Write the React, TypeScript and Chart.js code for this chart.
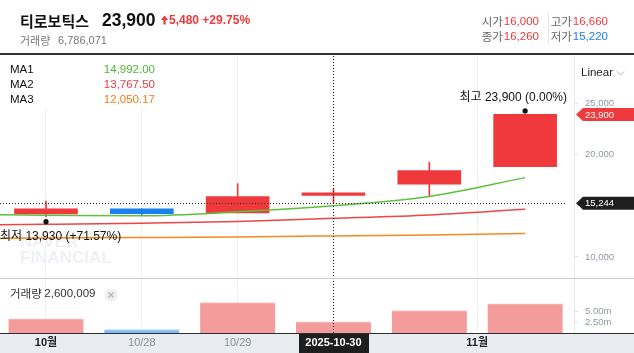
import React, { useEffect, useRef } from 'react';
import { Chart, registerables } from 'chart.js';

Chart.register(...registerables);

// ---- data ----
const stockName = '티로보틱스';
const dates = ['10/27', '10/28', '10/29', '10/30', '10/31', '11/03'];
const opens = [14200, 14700, 14300, 16000, 17100, 18800];
const highs = [15450, 14700, 17150, 16660, 19250, 23900];
const lows = [13930, 14100, 14300, 15220, 15950, 18800];
const closes = [14700, 14220, 15880, 16260, 18420, 23900];
const volumes = [3320000, 820000, 7130000, 2600009, 5260000, 6786071];
const totalVolume = 6786071;
const prevClose = 18420;

const maIndex = [-1, 0, 1, 2, 3, 4, 5];
const ma1 = [14150, 14080, 14020, 14400, 14992.0, 15900, 17740];
const ma2 = [13080, 13180, 13300, 13470, 13767.5, 14100, 14650];
const ma3 = [11800, 11850, 11900, 11960, 12050.17, 12150, 12300];
const maNames = ['MA1', 'MA2', 'MA3'];

const priceTicks = [10000, 20000, 25000];
const volumeTicks = [2500000, 5000000];
const xTickPos = [0, 1, 2, 3, 4.5];
const xTickLabels = ['10월', '10/28', '10/29', '2025-10-30', '11월'];

const crossIndex = 3;
const crossPrice = 15244;

// ---- style ----
const FONT = "'Liberation Sans', 'Noto Sans CJK KR', sans-serif";
const KFONT = "'Noto Sans CJK KR', 'Liberation Sans', sans-serif";
const UP = '#f0393c';
const DOWN = '#1a7ff0';
const UP_VOL = '#f49b9c';
const UP_VOL_TOP = '#f7c3c3';
const DOWN_VOL = '#80bcf6';
const DOWN_VOL_TOP = '#b5d7fa';
const MA_COLORS = ['#5cc13e', '#ee4548', '#f58a22'];
const MA_TEXT = ['#4db832', '#ee3a40', '#f47d18'];

const fmt = (v: number) => v.toLocaleString('en-US');

export default function App() {
  const ref = useRef<HTMLCanvasElement>(null);

  useEffect(() => {
    const canvas = ref.current as HTMLCanvasElement;
    const n = dates.length;
    const isUp = closes.map((c, i) => c >= opens[i]);
    const candleColors = isUp.map((u) => (u ? UP : DOWN));
    const volColors = isUp.map((u) => (u ? UP_VOL : DOWN_VOL));
    const volTop = isUp.map((u) => (u ? UP_VOL_TOP : DOWN_VOL_TOP));
    const lastClose = closes[n - 1];
    const maxHigh = Math.max(...highs);
    const maxIdx = highs.indexOf(maxHigh);
    const minLow = Math.min(...lows);
    const minIdx = lows.indexOf(minLow);
    const change = lastClose - prevClose;
    const changePct = (change / prevClose) * 100;

    const overlay = {
      id: 'overlay',
      beforeDraw(chart: any) {
        const ctx = chart.ctx;
        const W = chart.width;
        const H = chart.height;
        const area = chart.chartArea;
        ctx.save();
        ctx.fillStyle = '#ffffff';
        ctx.fillRect(0, 0, W, H);
        ctx.fillStyle = '#e9ecf1';
        ctx.fillRect(0, area.bottom, W, H - area.bottom);
        const cx = chart.scales.x.getPixelForValue(crossIndex);
        ctx.fillStyle = '#1e1e1e';
        ctx.fillRect(Math.round(cx) - 34, area.bottom, 70, H - area.bottom);
        ctx.restore();
      },
      beforeDatasetsDraw(chart: any) {
        const ctx = chart.ctx;
        const area = chart.chartArea;
        ctx.save();
        ctx.fillStyle = '#ffffff';
        ctx.fillRect(0, area.top, 160, 52);
        ctx.fillStyle = '#eef0f4';
        ctx.font = `bold 17px ${FONT}`;
        ctx.textBaseline = 'middle';
        ctx.textAlign = 'left';
        ctx.fillText('NAVER', 20, 242);
        ctx.fillText('FINANCIAL', 20, 258);
        ctx.restore();
      },
      afterDatasetsDraw(chart: any) {
        const ctx = chart.ctx;
        const area = chart.chartArea;
        const xs = chart.scales.x;
        const ys = chart.scales.y;
        ctx.save();
        ctx.strokeStyle = '#222';
        ctx.lineWidth = 1;
        ctx.setLineDash([1, 2]);
        const cx = Math.round(xs.getPixelForValue(crossIndex)) + 0.5;
        ctx.beginPath();
        ctx.moveTo(cx, area.top);
        ctx.lineTo(cx, area.bottom);
        ctx.stroke();
        const cy = Math.round(ys.getPixelForValue(crossPrice)) + 0.5;
        ctx.beginPath();
        ctx.moveTo(area.left, cy);
        ctx.lineTo(area.right - 7, cy);
        ctx.stroke();
        ctx.restore();
      },
      afterDraw(chart: any) {
        const ctx = chart.ctx;
        const W = chart.width;
        const area = chart.chartArea;
        const xs = chart.scales.x;
        const ys = chart.scales.y;
        ctx.save();
        ctx.textBaseline = 'middle';
        ctx.textAlign = 'left';

        // header
        ctx.fillStyle = '#111';
        ctx.font = `bold 15px ${KFONT}`;
        ctx.fillText(stockName, 20, 21);
        ctx.font = `bold 17.5px ${FONT}`;
        ctx.fillText(fmt(lastClose), 102, 21);
        ctx.fillStyle = UP;
        ctx.beginPath();
        ctx.moveTo(164.5, 15.5);
        ctx.lineTo(160.8, 20);
        ctx.lineTo(168.2, 20);
        ctx.closePath();
        ctx.fill();
        ctx.fillRect(163.4, 19.5, 2.3, 5);
        ctx.font = `bold 12px ${FONT}`;
        ctx.fillText(`${fmt(change)} +${changePct.toFixed(2)}%`, 169, 21);
        ctx.fillStyle = '#777';
        ctx.font = `11px ${KFONT}`;
        ctx.fillText('거래량', 20, 41);
        ctx.font = `11px ${FONT}`;
        ctx.fillText(fmt(totalVolume), 58, 41);

        const drawPair = (label: string, value: number, color: string, right: number, y: number) => {
          ctx.font = `11.5px ${FONT}`;
          ctx.textAlign = 'right';
          ctx.fillStyle = color;
          ctx.fillText(fmt(value), right, y);
          const w = ctx.measureText(fmt(value)).width;
          ctx.font = `11.5px ${KFONT}`;
          ctx.fillStyle = '#666';
          ctx.fillText(label, right - w - 1, y);
          ctx.textAlign = 'left';
        };
        drawPair('시가', opens[crossIndex], UP, 539, 22);
        drawPair('고가', highs[crossIndex], UP, 608, 22);
        drawPair('종가', closes[crossIndex], UP, 539, 37);
        drawPair('저가', lows[crossIndex], DOWN, 608, 37);
        ctx.fillStyle = '#e4e4e4';
        ctx.fillRect(548, 13, 1, 31);

        ctx.fillStyle = '#333';
        ctx.fillRect(0, 53, W, 2);

        // MA legend
        const mas = [ma1, ma2, ma3];
        const mi = maIndex.indexOf(crossIndex);
        mas.forEach((arr, k) => {
          const y = 70 + k * 15;
          ctx.font = `11.5px ${FONT}`;
          ctx.textAlign = 'left';
          ctx.fillStyle = '#111';
          ctx.fillText(maNames[k], 10, y);
          ctx.textAlign = 'right';
          ctx.fillStyle = MA_TEXT[k];
          ctx.fillText(arr[mi].toLocaleString('en-US', { minimumFractionDigits: 2, maximumFractionDigits: 2 }), 155, y);
        });
        ctx.textAlign = 'left';

        ctx.fillStyle = '#222';
        ctx.font = `11.5px ${FONT}`;
        ctx.fillText('Linear', 581, 73);
        ctx.strokeStyle = '#b0b0b0';
        ctx.lineWidth = 1;
        ctx.beginPath();
        ctx.moveTo(617, 71.5);
        ctx.lineTo(620.5, 75);
        ctx.lineTo(624, 71.5);
        ctx.stroke();

        ctx.fillStyle = '#c9ced5';
        ctx.fillRect(0, Math.round(chart.scales.yv.top), W, 1);
        ctx.fillStyle = '#2e2e2e';
        ctx.fillRect(0, area.bottom, W, 1);

        const drawMarker = (idx: number, value: number, above: boolean, label: string) => {
          const x = xs.getPixelForValue(idx);
          const yv = ys.getPixelForValue(value);
          const dotY = above ? yv - 3.5 : yv + 5;
          ctx.fillStyle = '#111';
          ctx.beginPath();
          ctx.arc(x, dotY, 2.6, 0, Math.PI * 2);
          ctx.fill();
          ctx.font = `12px ${FONT}`;
          const w = ctx.measureText(label).width;
          let tx = x - w / 2;
          tx = Math.max(area.left, Math.min(tx, area.right - 7 - w));
          ctx.textAlign = 'left';
          ctx.fillText(label, tx, above ? dotY - 13 : dotY + 15);
        };
        const hiPct = ((lastClose - maxHigh) / maxHigh) * 100;
        const loPct = ((lastClose - minLow) / minLow) * 100;
        drawMarker(maxIdx, maxHigh, true, `최고 ${fmt(maxHigh)} (${hiPct.toFixed(2)}%)`);
        drawMarker(minIdx, minLow, false, `최저 ${fmt(minLow)} (+${loPct.toFixed(2)}%)`);

        const drawTag = (value: number, color: string) => {
          const y = ys.getPixelForValue(value);
          const x0 = area.right + 2;
          ctx.fillStyle = color;
          ctx.beginPath();
          ctx.moveTo(x0, y);
          ctx.lineTo(x0 + 7, y - 6.5);
          ctx.lineTo(W, y - 6.5);
          ctx.lineTo(W, y + 6.5);
          ctx.lineTo(x0 + 7, y + 6.5);
          ctx.closePath();
          ctx.fill();
          ctx.fillStyle = '#fff';
          ctx.font = `9.5px ${FONT}`;
          ctx.textAlign = 'left';
          ctx.fillText(fmt(value), x0 + 9, y + 0.5);
        };
        drawTag(lastClose, UP);
        drawTag(crossPrice, '#1e1e1e');

        const vTop = chart.scales.yv.top;
        ctx.fillStyle = '#333';
        ctx.font = `11.5px ${KFONT}`;
        ctx.textAlign = 'left';
        ctx.fillText('거래량', 10, vTop + 16);
        const kw = ctx.measureText('거래량 ').width;
        ctx.font = `11.5px ${FONT}`;
        ctx.fillText(fmt(volumes[crossIndex]), 10 + kw, vTop + 16);
        ctx.fillStyle = '#efefef';
        ctx.beginPath();
        ctx.arc(111, vTop + 17, 6.5, 0, Math.PI * 2);
        ctx.fill();
        ctx.strokeStyle = '#b5b5b5';
        ctx.lineWidth = 1.2;
        ctx.beginPath();
        ctx.moveTo(108.5, vTop + 14.5);
        ctx.lineTo(113.5, vTop + 19.5);
        ctx.moveTo(113.5, vTop + 14.5);
        ctx.lineTo(108.5, vTop + 19.5);
        ctx.stroke();

        ctx.restore();
      },
    };

    const lineDs = (arr: number[], k: number) => ({
      type: 'line',
      label: maNames[k],
      data: maIndex.map((x, i) => ({ x, y: arr[i] })),
      borderColor: MA_COLORS[k],
      borderWidth: 1.5,
      pointRadius: 0,
      cubicInterpolationMode: 'monotone',
      yAxisID: 'y',
      clip: 0,
      order: 0,
    });

    const chart = new Chart(canvas, {
      type: 'bar',
      data: {
        datasets: [
          lineDs(ma1, 0),
          lineDs(ma2, 1),
          lineDs(ma3, 2),
          {
            type: 'bar',
            label: 'wick',
            data: dates.map((_, i) => ({ x: i, y: [lows[i], highs[i]] })),
            backgroundColor: candleColors,
            barThickness: 1,
            yAxisID: 'y',
            order: 2,
          },
          {
            type: 'bar',
            label: 'body',
            data: dates.map((_, i) => ({ x: i, y: [opens[i], closes[i]] })),
            backgroundColor: candleColors,
            barThickness: 63,
            yAxisID: 'y',
            order: 1,
          },
          {
            type: 'bar',
            label: 'volume',
            data: dates.map((_, i) => ({ x: i, y: volumes[i] })),
            backgroundColor: volColors,
            borderColor: volTop,
            borderWidth: { top: 1, left: 0, right: 0, bottom: 0 },
            borderSkipped: false,
            barThickness: 75,
            yAxisID: 'yv',
            order: 3,
          },
        ] as any,
      },
      options: {
        responsive: false,
        animation: false,
        devicePixelRatio: 1,
        events: [],
        layout: { padding: { top: 56, left: 0, right: 0, bottom: 0 } },
        plugins: { legend: { display: false }, tooltip: { enabled: false } },
        datasets: { bar: { grouped: false } } as any,
        scales: {
          x: {
            type: 'linear',
            offset: false,
            min: -0.48,
            max: 5.51,
            afterBuildTicks: (s: any) => {
              s.ticks = xTickPos.map((v) => ({ value: v }));
            },
            afterFit: (s: any) => {
              s.height = 20;
            },
            grid: { color: '#eef0f3', drawTicks: false, lineWidth: 1, offset: false },
            border: { display: false },
            ticks: {
              autoSkip: false,
              maxRotation: 0,
              padding: 3,
              callback: (_v: any, i: number) => xTickLabels[i],
              color: (c: any) => (c.index === crossIndex ? '#ffffff' : c.index === 0 || c.index === 4 ? '#222' : '#8a9099'),
              font: (c: any) => ({
                family: FONT,
                size: 11,
                weight: c.index === 1 || c.index === 2 ? 'normal' : 'bold',
              }),
            },
          },
          y: {
            type: 'linear',
            position: 'right',
            stack: 'right',
            stackWeight: 222,
            min: 7950,
            max: 29600,
            afterBuildTicks: (s: any) => {
              s.ticks = priceTicks.map((v) => ({ value: v }));
            },
            afterFit: (s: any) => {
              s.width = 60;
            },
            grid: { drawOnChartArea: false, drawTicks: true, tickLength: 4, color: '#dfe3e8' },
            border: { color: '#e4e7eb' },
            ticks: {
              padding: 7,
              color: '#9097a0',
              font: { family: FONT, size: 9.5 },
              callback: (v: any) => fmt(Number(v)),
            },
          },
          yv: {
            type: 'linear',
            position: 'right',
            stack: 'right',
            stackWeight: 55,
            min: 0,
            max: 12850000,
            afterBuildTicks: (s: any) => {
              s.ticks = volumeTicks.map((v) => ({ value: v }));
            },
            afterFit: (s: any) => {
              s.width = 60;
            },
            grid: { drawOnChartArea: false, drawTicks: true, tickLength: 4, color: '#dfe3e8' },
            border: { color: '#e4e7eb' },
            ticks: {
              padding: 7,
              color: '#9097a0',
              font: { family: FONT, size: 9.5 },
              callback: (v: any) => (Number(v) / 1e6).toFixed(2) + 'm',
            },
          },
        } as any,
      },
      plugins: [overlay as any],
    } as any);

    return () => chart.destroy();
  }, []);

  return (
    <div style={{ position: 'absolute', left: 0, top: 0, width: 634, height: 353, background: '#fff' }}>
      <canvas ref={ref} width={634} height={353} style={{ display: 'block', width: 634, height: 353 }} />
    </div>
  );
}
